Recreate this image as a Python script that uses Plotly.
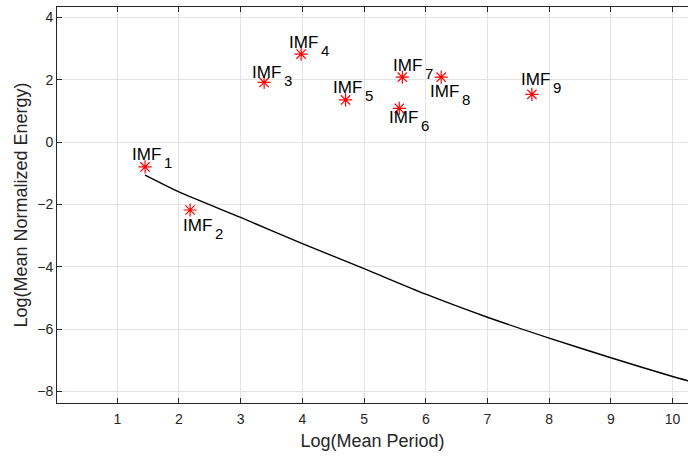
import plotly.graph_objects as go

# IMF points: log(mean period), log(mean normalized energy)
imf_base = ["IMF"] * 9
imf_index = ["1", "2", "3", "4", "5", "6", "7", "8", "9"]
imf_logT = [1.45, 2.18, 3.38, 3.98, 4.70, 5.57, 5.62, 6.25, 7.72]
imf_logE = [-0.80, -2.18, 1.91, 2.82, 1.35, 1.08, 2.08, 2.08, 1.53]

# confidence curve
curve_x = [1.45, 2.0, 3.0, 4.0, 5.0, 6.0, 7.0, 8.0, 9.0, 10.0, 10.4]
curve_y = [-1.06, -1.60, -2.42, -3.26, -4.06, -4.88, -5.62, -6.29, -6.92, -7.52, -7.74]

x_ticks = [1, 2, 3, 4, 5, 6, 7, 8, 9, 10]
y_ticks = [-8, -6, -4, -2, 0, 2, 4]

# label offsets in pixels: left edge dx, vertical centre offset (positive = up)
label_dx = [-15, -9, -14, -14, -15, -12, -11, -13, -13]
label_up = [12, -16, 10, 12, 12, -9, 12, -14, 15]

FONT = "Liberation Sans, Arial, Helvetica, sans-serif"
DARK = "#262626"

fig = go.Figure()
fig.add_trace(go.Scatter(x=curve_x, y=curve_y, mode="lines",
                         line=dict(color="black", width=1.4, shape="spline", smoothing=0.6),
                         showlegend=False, hoverinfo="skip"))
fig.add_trace(go.Scatter(x=imf_logT, y=imf_logE, mode="markers",
                         marker=dict(symbol="asterisk-open", size=11, color="red",
                                     line=dict(color="red", width=1.2)),
                         showlegend=False))

for base, idx, x, y, dx, up in zip(imf_base, imf_index, imf_logT, imf_logE, label_dx, label_up):
    fig.add_annotation(x=x, y=y, xref="x", yref="y", text=base, showarrow=False,
                       xanchor="left", yanchor="middle", xshift=dx, yshift=up,
                       font=dict(family=FONT, size=17, color="black"))
    fig.add_annotation(x=x, y=y, xref="x", yref="y", text=idx, showarrow=False,
                       xanchor="left", yanchor="middle", xshift=dx + 32, yshift=up - 8,
                       font=dict(family=FONT, size=15, color="black"))

fig.update_layout(
    width=688, height=459,
    margin=dict(l=57, r=0, t=7, b=56),
    plot_bgcolor="white", paper_bgcolor="white",
    font=dict(family=FONT, color=DARK),
)
fig.update_xaxes(range=[0.023, 10.25], tickvals=x_ticks, ticks="inside", ticklen=5,
                 tickcolor=DARK, showline=True, linecolor=DARK, linewidth=1, mirror="ticks",
                 showgrid=True, gridcolor="#e3e3e3", gridwidth=1, zeroline=False,
                 tickfont=dict(size=14, color=DARK), ticklabelstandoff=3,
                 title=dict(text="Log(Mean Period)", font=dict(size=18, color=DARK), standoff=8))
fig.update_yaxes(range=[-8.37, 4.33], tickvals=y_ticks, ticks="inside", ticklen=5,
                 tickcolor=DARK, showline=True, linecolor=DARK, linewidth=1, mirror=False,
                 showgrid=True, gridcolor="#e3e3e3", gridwidth=1, zeroline=False,
                 tickfont=dict(size=14, color=DARK),
                 title=dict(text="Log(Mean Normalized Energy)", font=dict(size=18, color=DARK), standoff=4))

fig.write_html("out.html")
